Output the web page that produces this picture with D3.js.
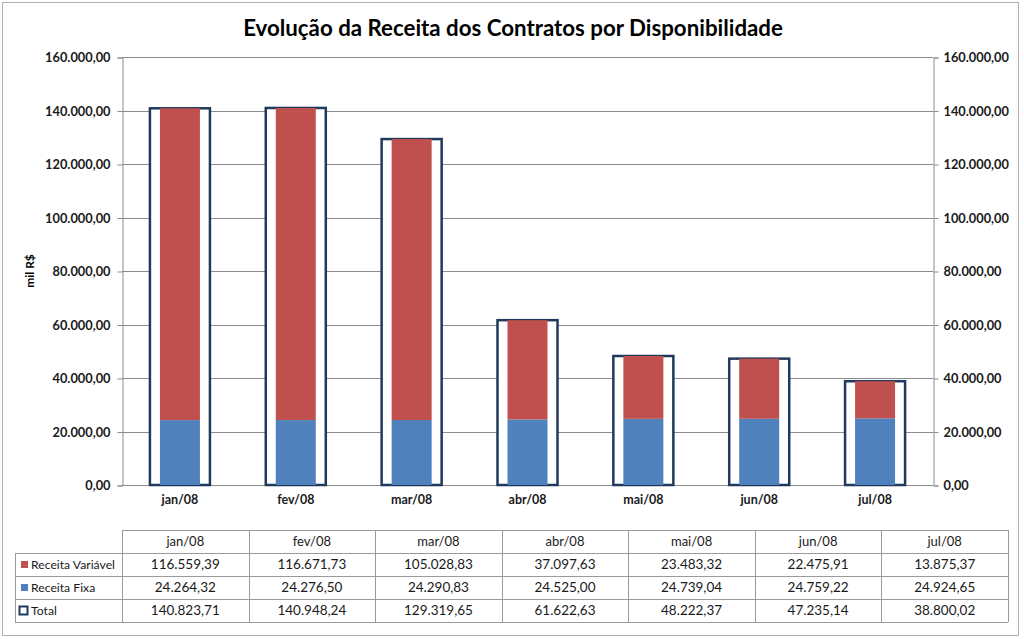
<!DOCTYPE html>
<html>
<head>
<meta charset="utf-8">
<script src="https://cdn.jsdelivr.net/npm/d3@7"></script>
<style>
  html, body { margin: 0; padding: 0; background: #fff; }
  svg { display: block; }
  text { font-family: Lato, "Open Sans", sans-serif; }
</style>
</head>
<body>
<svg id="chart" width="1024" height="639"></svg>
<script>
const categories = ["jan/08", "fev/08", "mar/08", "abr/08", "mai/08", "jun/08", "jul/08"];
const receitaVariavel = [116559.39, 116671.73, 105028.83, 37097.63, 23483.32, 22475.91, 13875.37];
const receitaFixa = [24264.32, 24276.50, 24290.83, 24525.00, 24739.04, 24759.22, 24924.65];
const total = [140823.71, 140948.24, 129319.65, 61622.63, 48222.37, 47235.14, 38800.02];
const yTicks = [0, 20000, 40000, 60000, 80000, 100000, 120000, 140000, 160000];
const seriesNames = ["Receita Variável", "Receita Fixa", "Total"];

const colors = { variavel: "#C0504D", fixa: "#4F81BD", total: "#1F3A5C" };

const svg = d3.select("#chart");

const fmt = d3.formatLocale({ decimal: ",", thousands: ".", grouping: [3], currency: ["R$", ""] }).format(",.2f");

svg.append("rect").attr("x", 2.5).attr("y", 2.5).attr("width", 1016).attr("height", 633)
  .attr("fill", "#fff").attr("stroke", "#b0b0b0").attr("stroke-width", 1);

const title = svg.append("text").attr("x", 513).attr("y", 36).attr("text-anchor", "middle")
  .attr("font-weight", 700).attr("font-size", 22).attr("fill", "#000")
  .text("Evolução da Receita dos Contratos por Disponibilidade");
const tw = title.node().getComputedTextLength();
title.attr("font-size", 22 * 540 / tw);

const plot = { left: 122, right: 933, top: 57, bottom: 485 };

const x = d3.scaleBand().domain(categories).range([plot.left, plot.right])
  .paddingInner(0.482).paddingOuter(0.241);
const y = d3.scaleLinear().domain([0, 160000]).range([plot.bottom, plot.top]);

svg.append("g").selectAll("line").data(yTicks).join("line")
  .attr("x1", plot.left).attr("x2", plot.right)
  .attr("y1", d => Math.round(y(d)) + 0.5).attr("y2", d => Math.round(y(d)) + 0.5)
  .attr("stroke", "#8c8c8c").attr("stroke-width", 1);

const leftAxis = svg.append("g").attr("transform", `translate(${plot.left + 0.5},0.5)`)
  .call(d3.axisLeft(y).tickValues(yTicks).tickFormat(fmt).tickSize(5).tickPadding(7));
const rightAxis = svg.append("g").attr("transform", `translate(${plot.right + 0.5},0.5)`)
  .call(d3.axisRight(y).tickValues(yTicks).tickFormat(fmt).tickSize(5).tickPadding(5));
[leftAxis, rightAxis].forEach(a => {
  a.select(".domain").attr("stroke", "#8c8c8c");
  a.selectAll(".tick line").attr("stroke", "#8c8c8c");
  a.selectAll(".tick text").attr("font-family", "Lato, sans-serif").attr("font-size", 12.8)
    .attr("font-weight", 700).attr("fill", "#1a1a1a");
});

svg.append("text").attr("transform", `translate(34,${(plot.top + plot.bottom) / 2}) rotate(-90)`)
  .attr("text-anchor", "middle").attr("font-size", 12).attr("font-weight", 700).attr("fill", "#000")
  .text("mil R$");

const xAxis = svg.append("g").attr("transform", `translate(0,${plot.bottom})`)
  .call(d3.axisBottom(x).tickSize(0).tickPadding(10));
xAxis.select(".domain").remove();
xAxis.selectAll(".tick text").attr("font-family", "Lato, sans-serif").attr("font-size", 12.5)
  .attr("font-weight", 700).attr("fill", "#1a1a1a");

svg.append("g").selectAll("rect").data(categories).join("rect")
  .attr("x", d => x(d)).attr("width", x.bandwidth())
  .attr("y", (d, i) => y(total[i])).attr("height", (d, i) => y(0) - y(total[i]))
  .attr("fill", "#fff").attr("stroke", colors.total).attr("stroke-width", 2.5);

const inner = 40;
const off = (x.bandwidth() - inner) / 2;
svg.append("g").selectAll("rect").data(categories).join("rect")
  .attr("x", d => x(d) + off).attr("width", inner)
  .attr("y", (d, i) => y(receitaFixa[i])).attr("height", (d, i) => y(0) - y(receitaFixa[i]))
  .attr("fill", colors.fixa);
svg.append("g").selectAll("rect").data(categories).join("rect")
  .attr("x", d => x(d) + off).attr("width", inner)
  .attr("y", (d, i) => y(receitaFixa[i] + receitaVariavel[i]))
  .attr("height", (d, i) => y(receitaFixa[i]) - y(receitaFixa[i] + receitaVariavel[i]))
  .attr("fill", colors.variavel);

const tbl = { left: 15, labelRight: 122, right: 1008, top: 530, rowH: 23 };
const tx = d3.scaleBand().domain(categories).range([tbl.labelRight, tbl.right]);
const rowsData = [receitaVariavel, receitaFixa, total];
const tg = svg.append("g");
const lineColor = "#9a9a9a";
tg.append("line").attr("x1", tbl.labelRight).attr("x2", tbl.right)
  .attr("y1", tbl.top + 0.5).attr("y2", tbl.top + 0.5).attr("stroke", lineColor);
[1, 2, 3, 4].forEach(r => {
  const yy = tbl.top + r * tbl.rowH + 0.5;
  tg.append("line").attr("x1", tbl.left).attr("x2", tbl.right).attr("y1", yy).attr("y2", yy).attr("stroke", lineColor);
});
tg.append("line").attr("x1", tbl.left + 0.5).attr("x2", tbl.left + 0.5)
  .attr("y1", tbl.top + tbl.rowH).attr("y2", tbl.top + 4 * tbl.rowH).attr("stroke", lineColor);
tg.selectAll("line.v").data(categories.concat(["end"])).join("line").attr("class", "v")
  .attr("x1", d => Math.round(d === "end" ? tbl.right : tx(d)) + 0.5)
  .attr("x2", d => Math.round(d === "end" ? tbl.right : tx(d)) + 0.5)
  .attr("y1", tbl.top).attr("y2", tbl.top + 4 * tbl.rowH).attr("stroke", lineColor);
tg.selectAll("text.h").data(categories).join("text").attr("class", "h")
  .attr("x", d => tx(d) + tx.bandwidth() / 2).attr("y", tbl.top + 16)
  .attr("text-anchor", "middle").attr("font-size", 13).attr("fill", "#1a1a1a").text(d => d);
rowsData.forEach((arr, r) => {
  tg.selectAll(`text.r${r}`).data(categories).join("text").attr("class", `r${r}`)
    .attr("x", d => tx(d) + tx.bandwidth() / 2).attr("y", tbl.top + (r + 1) * tbl.rowH + 16)
    .attr("text-anchor", "middle").attr("font-size", 13.5).attr("fill", "#1a1a1a")
    .text((d, i) => fmt(arr[i]));
  tg.append("text").attr("x", 31).attr("y", tbl.top + (r + 1) * tbl.rowH + 16)
    .attr("font-size", 12.2).attr("fill", "#1a1a1a").text(seriesNames[r]);
});
tg.append("rect").attr("x", 21).attr("y", 561).attr("width", 7).attr("height", 7).attr("fill", colors.variavel);
tg.append("rect").attr("x", 21).attr("y", 584).attr("width", 7).attr("height", 7).attr("fill", colors.fixa);
tg.append("rect").attr("x", 19.5).attr("y", 606.5).attr("width", 8).attr("height", 8)
  .attr("fill", "#fff").attr("stroke", colors.total).attr("stroke-width", 2);
</script>
</body>
</html>
